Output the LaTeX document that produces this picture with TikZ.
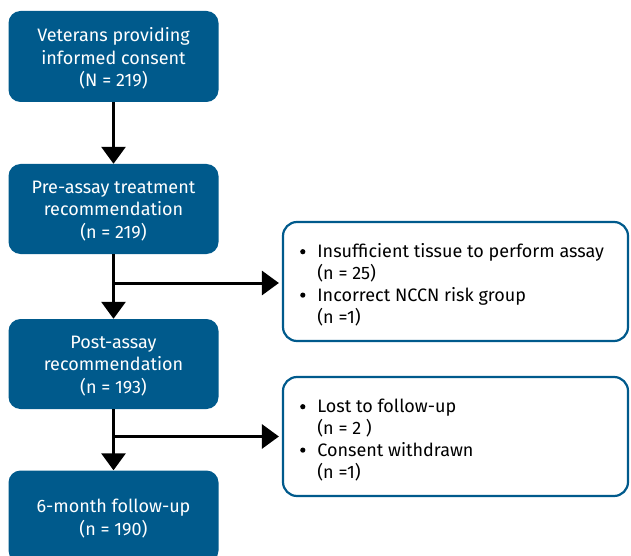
\documentclass[tikz,border=0pt]{standalone}
\usepackage{fontspec}
\setmainfont{Fira Sans}
\usetikzlibrary{arrows.meta}
\definecolor{nblue}{RGB}{0,90,140}
\newcommand\mybul{\raisebox{0.2em}{\tikz\fill (0,0) circle (2.6pt);}}
\tikzset{
  mainbox/.style={fill=nblue, rounded corners=12pt, minimum width=210pt, inner sep=0pt},
  maintext/.style={text=white, align=center, font=\fontsize{18}{22.5}\selectfont, inner sep=0pt, yshift=-2pt},
  sidebox/.style={draw=nblue, line width=2.2pt, fill=white, rounded corners=14pt, minimum width=345pt,
    minimum height=119pt, inner sep=0pt},
  sidetext/.style={anchor=north west, inner sep=0pt, align=left, font=\fontsize{18}{21.7}\selectfont},
  flow/.style={line width=3pt, -{Triangle[width=24pt,length=17pt]}}
}
\begin{document}
\begin{tikzpicture}[x=1pt,y=-1pt]
\useasboundingbox (0,0) rectangle (631,556);
\node[mainbox, minimum height=91pt, label={[maintext]center:{Veterans providing\\informed consent\\(N = 219)}}] (b1) at (113.5,56.5) {};
\node[mainbox, minimum height=90pt, label={[maintext]center:{Pre-assay treatment\\recommendation\\(n = 219)}}] (b2) at (113.5,209) {};
\node[mainbox, minimum height=90pt, label={[maintext]center:{Post-assay\\recommendation\\(n = 193)}}] (b3) at (113.5,364) {};
\node[mainbox, minimum height=92pt, label={[maintext]center:{6-month follow-up\\(n = 190)}}] (b4) at (113.5,516.5) {};
\node[sidebox] (r1) at (455.5,281.5) {};
\node[sidetext] (t1) at (300,242.5)
  {\begin{tabular}{@{}l@{\hspace{12pt}}l@{}}\mybul & Insufficient tissue to perform assay\\ & (n = 25)\\ \mybul & Incorrect NCCN risk group\\ & (n =1)\end{tabular}};
\node[sidebox] (r2) at (455.5,436.5) {};
\node[sidetext] (t2) at (300,397.5)
  {\begin{tabular}{@{}l@{\hspace{12pt}}l@{}}\mybul & Lost to follow-up\\ & (n = 2 )\\ \mybul & Consent withdrawn\\ & (n =1)\end{tabular}};
\draw[flow] (b1.south) -- (b2.north);
\draw[flow] (b2.south) -- (b3.north);
\draw[flow] ([yshift=-1.5pt]b2.south |- r1.west) -- ([xshift=-3pt,yshift=-1.5pt]r1.west);
\draw[flow] (b3.south) -- (b4.north);
\draw[flow] (b3.south |- r2.west) -- ([xshift=-3pt]r2.west);
\end{tikzpicture}
\end{document}
